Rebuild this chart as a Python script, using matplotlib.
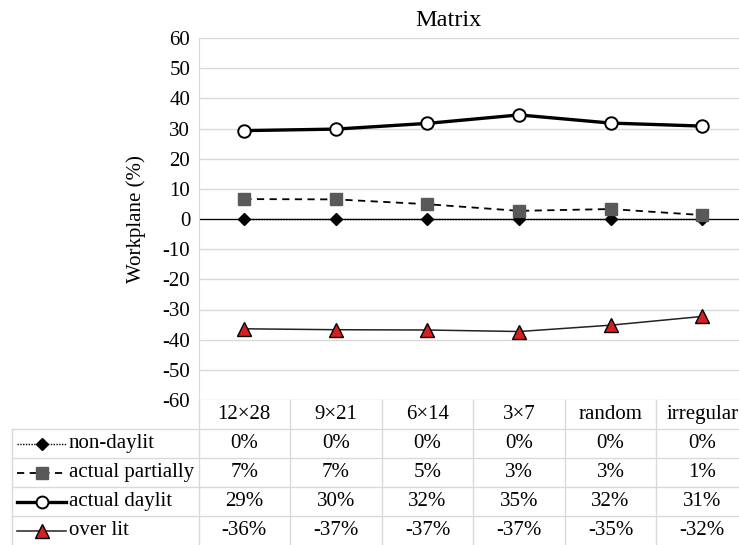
import numpy as np
import matplotlib
matplotlib.use('Agg')
import matplotlib.pyplot as plt
from matplotlib.lines import Line2D

plt.rcParams['font.family'] = ['Liberation Serif', 'DejaVu Serif']
plt.rcParams['axes.unicode_minus'] = False

# data
categories = ['12×28', '9×21', '6×14', '3×7', 'random', 'irregular']
series_names = ['non-daylit', 'actual partially', 'actual daylit', 'over lit']
non_daylit = [0, 0, 0, 0, 0, 0]
actual_partially = [6.6, 6.5, 4.9, 2.7, 3.3, 1.3]
actual_daylit = [29.3, 29.8, 31.7, 34.5, 31.8, 30.8]
over_lit = [-36.4, -36.7, -36.8, -37.3, -35.2, -32.3]

# table text as printed under the chart
table_non_daylit = ['0%', '0%', '0%', '0%', '0%', '0%']
table_partially = ['7%', '7%', '5%', '3%', '3%', '1%']
table_daylit = ['29%', '30%', '32%', '35%', '32%', '31%']
table_over_lit = ['-36%', '-37%', '-37%', '-37%', '-35%', '-32%']

W, H = 739, 545
FS = 15
fig = plt.figure(figsize=(W / 100, H / 100), dpi=100)

# pixel geometry of plot area (right side is cut off in the original)
x0, x1 = 198.5, 748.0
ytop, ybot = 38.0, 400.0
ax = fig.add_axes([x0 / W, 1 - ybot / H, (x1 - x0) / W, (ybot - ytop) / H])

styles = [
    dict(color='black', lw=1.0, ls=(0, (1, 1)), marker='D', ms=6.5, mfc='black', mec='black'),
    dict(color='black', lw=1.3, ls=(0, (4, 3)), marker='s', ms=9, mfc='#595959', mec='#595959'),
    dict(color='black', lw=2.4, ls='-', marker='o', ms=9, mfc='white', mec='black', mew=1.4),
    dict(color='#222222', lw=1.1, ls='-', marker='^', ms=10, mfc='#d42020', mec='black', mew=1.0),
]
data = [non_daylit, actual_partially, actual_daylit, over_lit]
x = np.arange(len(categories))

ax.axhline(0, color='black', lw=0.9, zorder=2)
for vals, st in zip(data, styles):
    ax.plot(x, vals, zorder=3, clip_on=False, **st)

ax.set_xlim(-0.5, len(categories) - 0.5)
ax.set_ylim(-60, 60)
ax.set_yticks(np.arange(-60, 61, 10))
ax.set_xticks([])
ax.tick_params(axis='y', length=0, labelsize=FS, pad=6)
ax.grid(axis='y', color='#d9d9d9', lw=1.0)
ax.set_axisbelow(True)
for s in ['top', 'right', 'bottom']:
    ax.spines[s].set_visible(False)
ax.spines['left'].set_color('#d9d9d9')
ax.set_ylabel('Workplane (%)', fontsize=FS, labelpad=12)
fig.text(448 / W, 1 - 20 / H, 'Matrix', fontsize=17.5, ha='center', va='center')

# data table drawn in pixel coordinates
tab = fig.add_axes([0, 0, 1, 1])
tab.set_xlim(0, W)
tab.set_ylim(H, 0)
tab.axis('off')
tab.patch.set_alpha(0)

colw = (x1 - x0) / len(categories)
rows = [400, 429, 458, 487, 516, 545]
grid_c = '#d9d9d9'
left_edge = 12

for i in range(len(categories) + 1):
    xx = x0 + i * colw
    tab.plot([xx, xx], [rows[0], rows[-1]], color=grid_c, lw=1.0)
tab.plot([left_edge, left_edge], [rows[1], rows[-1]], color=grid_c, lw=1.0)
for r in rows[1:-1]:
    tab.plot([left_edge, W], [r, r], color=grid_c, lw=1.0)

for i, c in enumerate(categories):
    tab.text(x0 + (i + 0.5) * colw, (rows[0] + rows[1]) / 2, c, fontsize=FS,
             ha='center', va='center')

table_rows = [table_non_daylit, table_partially, table_daylit, table_over_lit]
for j, (name, labels, st) in enumerate(zip(series_names, table_rows, styles)):
    yc = (rows[j + 1] + rows[j + 2]) / 2
    for i, lab in enumerate(labels):
        tab.text(x0 + (i + 0.5) * colw, yc, lab, fontsize=FS, ha='center', va='center')
    key = dict(st)
    key['ms'] = key['ms'] * 0.95
    tab.add_line(Line2D([17, 41.5, 66], [yc, yc, yc], color=key.pop('color'), lw=key.pop('lw'),
                        ls=key.pop('ls'), markevery=[1], **key))
    tab.text(69, yc, name, fontsize=FS, ha='left', va='center')

fig.savefig('out.png', dpi=100)
